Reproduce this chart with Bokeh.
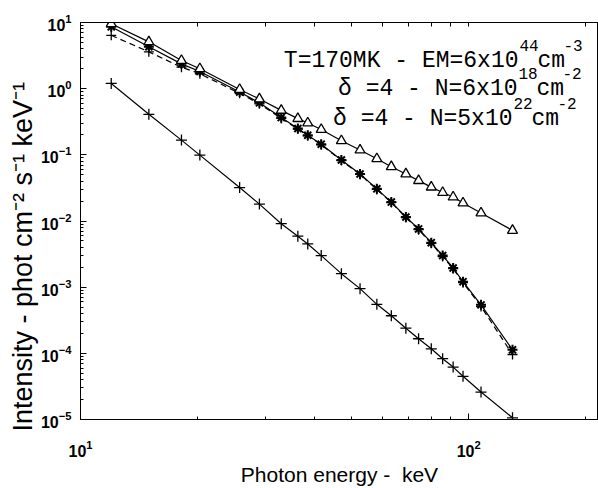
from bokeh.plotting import figure
from bokeh.models import LogAxis, Label, LogTicker, FixedTicker, Range1d, Title
from bokeh.embed import file_html
from bokeh.resources import INLINE

# photon energies (keV) shared by all curves
energy = [12, 15, 18.2, 20.3, 25.7, 28.9, 32.9, 36.3, 38.5, 41.7, 47.0, 52.5,
          58.0, 63.2, 68.9, 74.3, 80.1, 85.7, 91.2, 96.7, 107.6, 129.7]

# triangle curve
tri = [9.6, 5.1, 2.66, 2.0, 0.97, 0.70, 0.47, 0.353, 0.303, 0.241, 0.163, 0.118,
       0.0873, 0.0662, 0.0514, 0.0408, 0.0325, 0.0269, 0.0230, 0.0187, 0.0132, 0.0072]

# asterisk curve (steep, thermal-like)
star = [8.6, 4.3, 2.37, 1.82, 0.89, 0.61, 0.366, 0.25, 0.198, 0.145, 0.0835, 0.0514,
        0.0306, 0.0193, 0.0115, 0.0076, 0.0047, 0.0030, 0.00195, 0.00121, 0.00054, 0.000113]

# dashed curve with + markers
dash = [6.4, 3.6, 2.11, 1.68, 0.85, 0.59, 0.355, 0.245, 0.194, 0.142, 0.082, 0.0505,
        0.0300, 0.0190, 0.0113, 0.0074, 0.0046, 0.0029, 0.0019, 0.00117, 0.00051, 0.000096]

# lowest + curve
low = [1.2, 0.41, 0.167, 0.099, 0.032, 0.018, 0.0091, 0.0059, 0.0045, 0.0030, 0.0016,
       0.00095, 0.00055, 0.00037, 0.00024, 0.000166, 0.000117, 0.000083, 0.000062,
       0.000045, 0.000026, 0.0000106]

x_limits = (10, 216)
y_limits = (1e-5, 10)
x_major = [10, 100]
x_minor = [20, 30, 40, 50, 60, 70, 80, 90, 200]
y_title = "Intensity - phot cm\u207b\u00b2 s\u207b\u00b9 keV\u207b\u00b9"

p = figure(width=598, height=488, x_axis_type="log", y_axis_type="log",
           x_range=Range1d(*x_limits), y_range=Range1d(*y_limits),
           output_backend="svg", toolbar_location=None,
           min_border_left=80, min_border_top=22, min_border_right=0, min_border_bottom=67)

p.background_fill_color = "white"
p.border_fill_color = "white"
p.outline_line_color = "black"
p.outline_line_width = 1
p.xgrid.visible = False
p.ygrid.visible = False

p.xaxis[0].ticker = FixedTicker(ticks=x_major, minor_ticks=x_minor)
p.yaxis[0].ticker = LogTicker(num_minor_ticks=10)

for ax in (p.xaxis[0], p.yaxis[0]):
    ax.major_tick_in = 6
    ax.major_tick_out = 0
    ax.minor_tick_in = 3
    ax.minor_tick_out = 0
    ax.axis_line_color = "black"
    ax.major_tick_line_color = "black"
    ax.minor_tick_line_color = "black"
    ax.major_label_text_font = "Liberation Sans"
    ax.major_label_text_font_style = "bold"
    ax.major_label_text_font_size = "16px"
    ax.major_label_text_color = "black"
    ax.axis_label_text_font = "Liberation Sans"
    ax.axis_label_text_font_style = "normal"
    ax.axis_label_text_color = "black"

p.xaxis.major_label_standoff = 20
p.xaxis.axis_label = "Photon energy -\u00a0 keV"
p.xaxis.axis_label_text_font_size = "21px"
p.xaxis.axis_label_standoff = 3

p.yaxis.major_label_standoff = 9

# y-axis title as a left-side title, starting a little below the frame bottom
p.add_layout(Title(text=y_title, align="left", offset=-12, standoff=0,
                   vertical_align="bottom",
                   text_font="Liberation Sans", text_font_size="27px",
                   text_font_style="normal", text_color="black"), "left")

top = LogAxis(ticker=FixedTicker(ticks=[], minor_ticks=x_minor + [100]),
              major_tick_in=0, major_tick_out=0, minor_tick_in=4, minor_tick_out=0,
              axis_line_color="black", minor_tick_line_color="black")
p.add_layout(top, "above")

# curves
p.line(energy, low, line_color="black", line_width=1.2)
p.scatter(energy, low, marker="cross", size=11, line_color="black", line_width=1.3)

p.line(energy, dash, line_color="black", line_width=1.2, line_dash="6 4")
p.scatter(energy, dash, marker="cross", size=10, line_color="black", line_width=1.3)

p.line(energy, star, line_color="black", line_width=1.2)
p.scatter(energy, star, marker="asterisk", size=10, line_color="black", line_width=2)

p.line(energy, tri, line_color="black", line_width=1.2)
p.scatter(energy, tri, marker="triangle", size=10, fill_color="white",
          line_color="black", line_width=1.3)

# legend text (frame-relative screen units, y up from frame bottom)
mono = "Liberation Mono"
main_size = "23px"
sup_size = "16px"

def txt(x, y, s, size, align="left"):
    p.add_layout(Label(x=x, y=y, x_units="screen", y_units="screen", text=s,
                       text_font=mono, text_font_size=size, text_color="black",
                       text_align=align, text_baseline="alphabetic"))

lines = [
    ("T=170MK - EM=6x10", "44", "-3", 359, 438),
    ("\u03b4 =4 - N=6x10", "18", "-2", 331, 437),
    ("\u03b4 =4 - N=5x10", "22", "-2", 301, 432),
]
for main, sup1, sup2, yb, xe in lines:
    txt(xe, yb, main, main_size, align="right")
    txt(xe + 1, yb + 15, sup1, sup_size)
    txt(xe + 19, yb, "cm", main_size)
    txt(xe + 45, yb + 15, sup2, sup_size)

open("out.html", "w").write(file_html(p, INLINE))
